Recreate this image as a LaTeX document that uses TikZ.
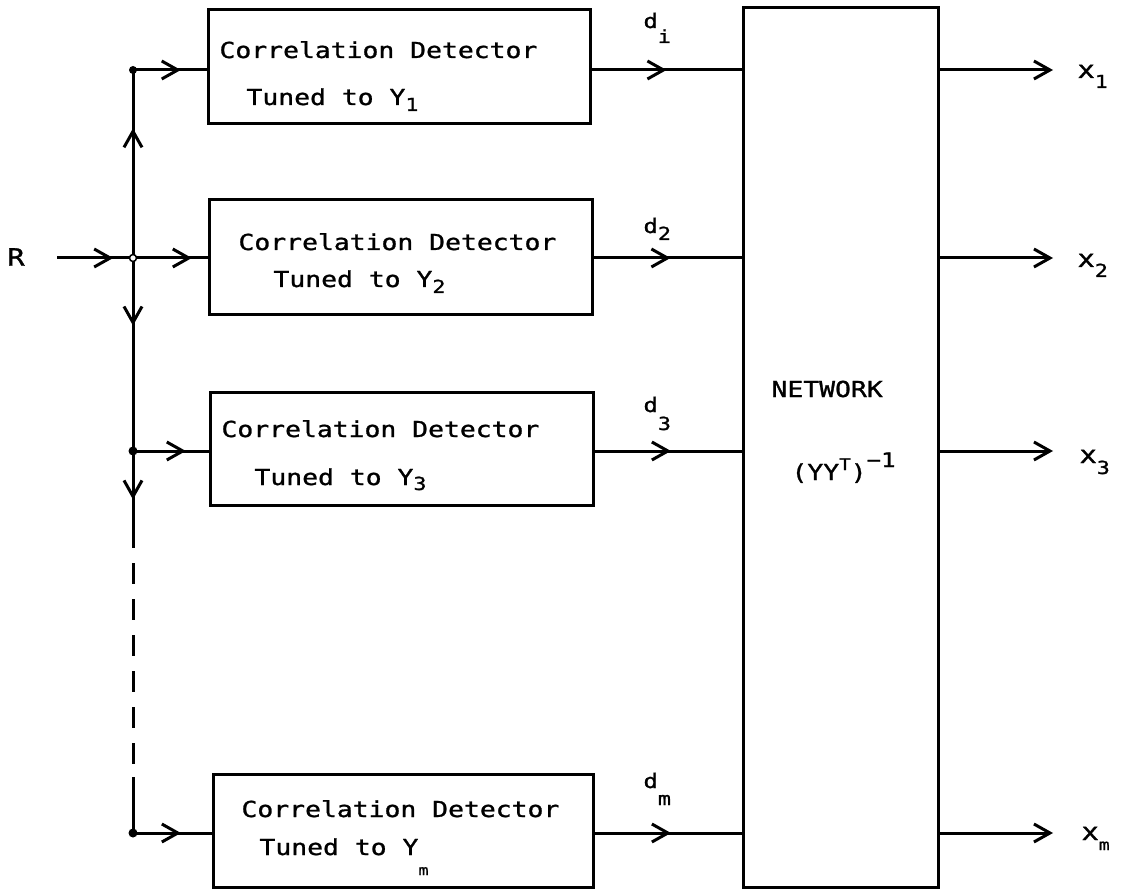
\documentclass[tikz,border=0pt]{standalone}
\usepackage{fontspec}
\newfontfamily\plotfont[FakeStretch=1.2,FakeBold=1.2]{DejaVu Sans Mono}
\usetikzlibrary{arrows.meta,decorations.markings}
\newcommand\fsz[1]{\fontsize{#1}{#1}\selectfont}
\newcommand\lowsub[2]{\raisebox{-#1}{\fsz{18}#2}}
\begin{document}
\begin{tikzpicture}[x=1pt,y=-1pt,line width=3pt,
  box/.style={draw,line width=3pt,inner sep=0pt},
  txt/.style={font=\plotfont\fsz{22},inner sep=0pt,anchor=base west},
  lbl/.style={font=\plotfont\fsz{20},inner sep=0pt,anchor=base west},
  xlbl/.style={font=\plotfont\fsz{24},inner sep=0pt,anchor=base west},
  barb/.style={-{Straight Barb[length=16pt,width=18pt]}},
  midarr/.style={postaction={decorate},decoration={markings,mark=at position #1 with {\arrow{Straight Barb[length=16pt,width=18pt]}}}}]
\useasboundingbox (0,0) rectangle (1124,890);

% boxes
\node[box,minimum width=382pt,minimum height=114pt] (b1) at (399,67) {};
\node[box,minimum width=383pt,minimum height=115pt] (b2) at (400.5,257.5) {};
\node[box,minimum width=383pt,minimum height=113pt] (b3) at (401.5,449) {};
\node[box,minimum width=380pt,minimum height=113pt] (b4) at (403,830.5) {};
\node[box,minimum width=195pt,minimum height=879pt] (net) at (840.5,447.5) {};

% box texts
\node[txt] (t1a) at (218,58) {Correlation Detector};
\node[txt] (t1b) at (245,105) {Tuned to Y\lowsub{6pt}{1}};
\node[txt] (t2a) at (237,250) {Correlation Detector};
\node[txt] (t2b) at (272,287) {Tuned to Y\lowsub{6pt}{2}};
\node[txt] (t3a) at (220,437) {Correlation Detector};
\node[txt] (t3b) at (253,485) {Tuned to Y\lowsub{5pt}{3}};
\node[txt] (t4a) at (240,817) {Correlation Detector};
\node[txt] (t4b) at (258,855) {Tuned to Y\raisebox{-20pt}{\fsz{14}m}};

\node[txt] (nt) at (770,397) {NETWORK};
\node[txt] (nf) at (790,480) {(YY\raisebox{10pt}{\fsz{16}T})\raisebox{13pt}{\fsz{20}−1}};

% labels
\node[font=\plotfont\fsz{24},inner sep=0pt] (R) at (16,257) {R};
\node[lbl] (d1) at (642,28) {d\lowsub{15pt}{i}};
\node[lbl] (d2) at (642,233) {d\lowsub{7pt}{2}};
\node[lbl] (d3) at (642,412) {d\lowsub{18pt}{3}};
\node[lbl] (dm) at (642,788) {d\lowsub{17pt}{m}};
\node[xlbl] (x1) at (1076,78) {x\lowsub{10pt}{1}};
\node[xlbl] (x2) at (1076,267) {x\lowsub{10pt}{2}};
\node[xlbl] (x3) at (1078,463) {x\lowsub{11pt}{3}};
\node[xlbl] (xm) at (1080,840) {x\raisebox{-10pt}{\fsz{15}m}};

% coordinates
\coordinate (j1) at (133,70);
\coordinate (j2) at (133,258);
\coordinate (j3) at (133,451);
\coordinate (jd1) at (133,548);
\coordinate (jd2) at (133,777);
\coordinate (j4) at (133,833);
\coordinate (rin) at (57,258);
\coordinate (e1) at (1053,70);
\coordinate (e2) at (1053,258);
\coordinate (e3) at (1053,451);
\coordinate (e4) at (1053,833);

% bus
\draw[midarr=0.74] (rin) -- (j2);
\draw[midarr=0.69] (j2) -- (j1);
\draw[midarr=0.35] (j2) -- (j3);
\draw[midarr=0.5] (j3) -- (jd1);
\draw[dash pattern=on 21pt off 15pt,dash phase=21pt] (jd1) -- (jd2);
\draw (jd2) -- (j4);

% inputs to detectors
\draw[midarr=0.65] (j1) -- (j1 -| b1.west);
\draw[midarr=0.79] (j2) -- (j2 -| b2.west);
\draw[midarr=0.7] (j3) -- (j3 -| b3.west);
\draw[midarr=0.61] (j4) -- (j4 -| b4.west);

% detector outputs
\draw[midarr=0.5] (j1 -| b1.east) -- (j1 -| net.west);
\draw[midarr=0.52] (j2 -| b2.east) -- (j2 -| net.west);
\draw[midarr=0.52] (j3 -| b3.east) -- (j3 -| net.west);
\draw[midarr=0.52] (j4 -| b4.east) -- (j4 -| net.west);

% network outputs
\draw[barb] (j1 -| net.east) -- (e1);
\draw[barb] (j2 -| net.east) -- (e2);
\draw[barb] (j3 -| net.east) -- (e3);
\draw[barb] (j4 -| net.east) -- (e4);

% junction dots
\fill (j1) circle[radius=4pt];
\draw[line width=1.5pt,fill=white] (j2) circle[radius=3.5pt];
\fill (j3) circle[radius=4.5pt];
\fill (j4) circle[radius=4.5pt];
\end{tikzpicture}
\end{document}
